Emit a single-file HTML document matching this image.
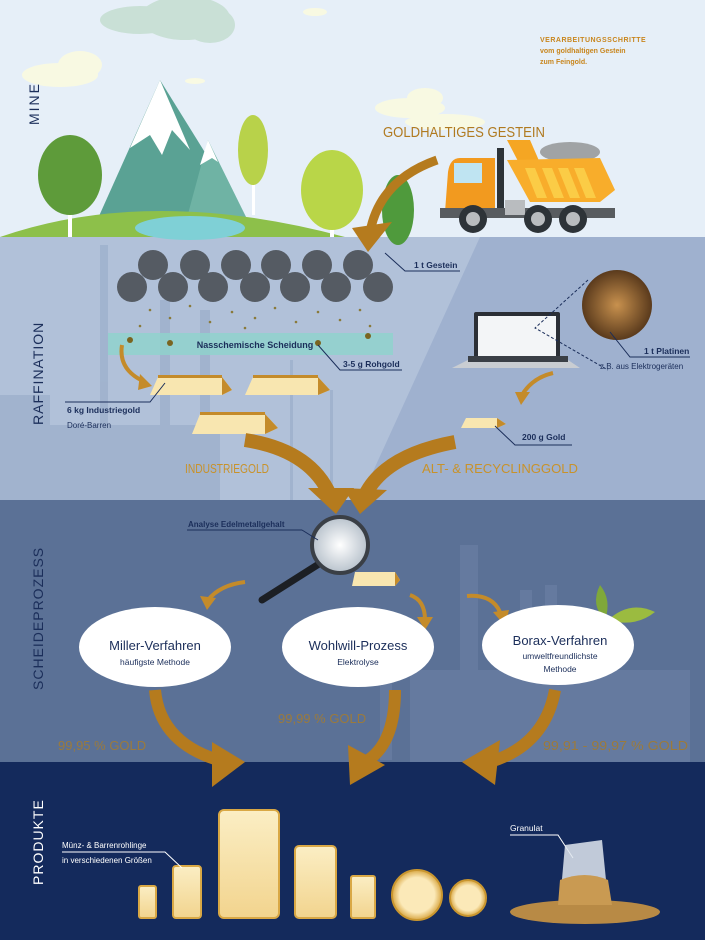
<!DOCTYPE html>
<html><head><meta charset="utf-8"><style>
html,body{margin:0;padding:0;background:#e6eff8}
svg{display:block}
text{font-family:"Liberation Sans",sans-serif}
</style></head><body>
<svg width="705" height="940" viewBox="0 0 705 940" xmlns="http://www.w3.org/2000/svg">
<defs>
<linearGradient id="gb" x1="0" y1="0" x2="0" y2="1"><stop offset="0" stop-color="#fbeec4"/><stop offset="1" stop-color="#f2d48e"/></linearGradient>
<radialGradient id="coin"><stop offset="0.7" stop-color="#fbe9b8"/><stop offset="1" stop-color="#d9a845"/></radialGradient>
<radialGradient id="lens"><stop offset="0" stop-color="#ffffff"/><stop offset="1" stop-color="#b8c2cc"/></radialGradient>
<radialGradient id="pcb"><stop offset="0" stop-color="#c8914e"/><stop offset="1" stop-color="#5a3a1c"/></radialGradient>
</defs>
<rect x="0" y="0" width="705" height="237" fill="#e6eff8"/>
<rect x="0" y="237" width="705" height="263" fill="#b1c1d9"/>
<polygon points="480,237 705,237 705,500 360,500" fill="#9fb1cf"/>
<rect x="0" y="500" width="705" height="262" fill="#5b7196"/>
<rect x="0" y="762" width="705" height="178" fill="#142a5c"/>
<g fill="#fbfbe0" opacity="0.9">
<ellipse cx="60" cy="75" rx="38" ry="12"/><ellipse cx="80" cy="65" rx="22" ry="14"/>
<ellipse cx="410" cy="108" rx="35" ry="10"/><ellipse cx="425" cy="98" rx="18" ry="10"/><ellipse cx="445" cy="122" rx="40" ry="8"/>
<ellipse cx="315" cy="12" rx="12" ry="4"/><ellipse cx="195" cy="81" rx="10" ry="3"/>
</g>
<g fill="#c9e0d6"><ellipse cx="140" cy="20" rx="40" ry="14"/><ellipse cx="185" cy="18" rx="45" ry="22"/><ellipse cx="210" cy="25" rx="25" ry="18"/></g>
<text x="540" y="42" font-size="7" font-weight="bold" fill="#c8861e" letter-spacing="0.5">VERARBEITUNGSSCHRITTE</text>
<text x="540" y="53" font-size="7" font-weight="bold" fill="#c8861e">vom goldhaltigen Gestein</text>
<text x="540" y="64" font-size="7" font-weight="bold" fill="#c8861e">zum Feingold.</text>
<text transform="translate(39,125) rotate(-90)" font-size="14" fill="#1b2e5a" letter-spacing="2">MINE</text>
<polygon points="95,225 160,80 250,225" fill="#5aa294"/>
<polygon points="160,80 130,148 150,135 162,155 172,130 190,150 160,80" fill="#fff"/>
<polygon points="185,225 208,140 250,225" fill="#6fb3a4"/>
<polygon points="208,140 200,165 212,158 218,162" fill="#fff"/>
<path d="M0,237 Q150,185 345,237 Z" fill="#8dc04a"/>
<ellipse cx="190" cy="228" rx="55" ry="12" fill="#7fd0d6"/>
<rect x="68" y="185" width="4" height="52" fill="#fff"/><ellipse cx="70" cy="175" rx="32" ry="40" fill="#5e9b3a"/>
<rect x="252" y="160" width="3" height="55" fill="#fff"/><ellipse cx="253" cy="150" rx="15" ry="35" fill="#b8d24a"/>
<rect x="330" y="200" width="4" height="37" fill="#fff"/><ellipse cx="332" cy="190" rx="31" ry="40" fill="#b9d648"/>
<ellipse cx="398" cy="210" rx="16" ry="35" fill="#4f9a3c"/>
<polygon points="507,140 530,140 540,163 520,165" fill="#f5a623"/>
<ellipse cx="570" cy="152" rx="30" ry="10" fill="#a0a3a5"/>
<polygon points="507,160 600,158 615,190 600,202 530,202" fill="#f8ad2b"/>
<g fill="#fbcc46"><polygon points="525,168 535,168 547,198 537,198"/><polygon points="542,168 552,168 564,198 554,198"/><polygon points="558,168 568,168 580,198 570,198"/><polygon points="574,168 584,168 596,198 586,198"/></g>
<path d="M448,172 Q450,158 460,158 L495,158 L495,212 L445,212 Z" fill="#f29a1f"/>
<rect x="454" y="163" width="28" height="20" fill="#bfe4f2"/>
<rect x="497" y="148" width="7" height="62" fill="#2d3338"/>
<rect x="440" y="208" width="175" height="10" fill="#585c60"/>
<rect x="505" y="200" width="20" height="15" fill="#b9bcbf"/>
<g fill="#2d3338"><circle cx="473" cy="219" r="14"/><circle cx="538" cy="219" r="14"/><circle cx="573" cy="219" r="14"/></g>
<g fill="#b9bcbf"><circle cx="473" cy="219" r="7"/><circle cx="538" cy="219" r="7"/><circle cx="573" cy="219" r="7"/></g>
<text x="383" y="137" font-size="15" fill="#b07a20" textLength="162" lengthAdjust="spacingAndGlyphs">GOLDHALTIGES GESTEIN</text>
<path d="M437,160 Q380,180 370,232" stroke="#b57b1e" stroke-width="9" fill="none"/>
<polygon points="352,228 392,222 368,252" fill="#b57b1e"/>
<g fill="#9eb0cc" opacity="0.8">
<rect x="0" y="395" width="50" height="105"/><rect x="50" y="425" width="170" height="75"/><rect x="100" y="245" width="8" height="180"/>
<rect x="160" y="300" width="10" height="125"/><rect x="200" y="310" width="10" height="115"/>
<rect x="290" y="360" width="3" height="140"/><rect x="330" y="390" width="3" height="110"/>
</g>
<g fill="#555b63">
<circle cx="153" cy="265" r="15"/><circle cx="195" cy="265" r="15"/><circle cx="236" cy="265" r="15"/><circle cx="276" cy="265" r="15"/><circle cx="317" cy="265" r="15"/><circle cx="358" cy="265" r="15"/>
<circle cx="132" cy="287" r="15"/><circle cx="173" cy="287" r="15"/><circle cx="213" cy="287" r="15"/><circle cx="255" cy="287" r="15"/><circle cx="295" cy="287" r="15"/><circle cx="336" cy="287" r="15"/><circle cx="378" cy="287" r="15"/>
</g>
<g fill="#8a7a3a">
<circle cx="150" cy="310" r="1.3"/><circle cx="170" cy="318" r="1.3"/><circle cx="190" cy="306" r="1.3"/><circle cx="210" cy="322" r="1.3"/><circle cx="232" cy="312" r="1.3"/><circle cx="255" cy="318" r="1.3"/><circle cx="275" cy="308" r="1.3"/><circle cx="296" cy="322" r="1.3"/><circle cx="318" cy="312" r="1.3"/><circle cx="340" cy="320" r="1.3"/><circle cx="360" cy="310" r="1.3"/><circle cx="140" cy="326" r="1.3"/><circle cx="245" cy="328" r="1.3"/><circle cx="370" cy="326" r="1.3"/>
</g>
<rect x="108" y="333" width="285" height="22" fill="#8fd3cc" opacity="0.8"/>
<g fill="#7a6420"><circle cx="130" cy="340" r="3"/><circle cx="170" cy="343" r="3"/><circle cx="318" cy="343" r="3"/><circle cx="368" cy="336" r="3"/></g>
<text x="255" y="348" font-size="9" font-weight="bold" fill="#1b2e5a" text-anchor="middle">Nasschemische Scheidung</text>
<path d="M385,253 L405,271 L460,271" stroke="#1b2e5a" fill="none"/><text x="414" y="268" font-size="8.5" font-weight="bold" fill="#1b2e5a">1 t Gestein</text>
<path d="M318,345 L340,370 L402,370" stroke="#1b2e5a" fill="none"/><text x="343" y="367" font-size="8.5" font-weight="bold" fill="#1b2e5a">3-5 g Rohgold</text>
<g>
<polygon points="158,377 222,377 232,390 222,395 150,395" fill="#f8e6b0"/><polygon points="222,377 232,390 222,395" fill="#c48b2a"/><rect x="158" y="375" width="64" height="3" fill="#c48b2a"/>
<polygon points="253,377 318,377 330,390 318,395 245,395" fill="#f8e6b0"/><polygon points="318,377 330,390 318,395" fill="#c48b2a"/><rect x="253" y="375" width="65" height="3" fill="#c48b2a"/>
<polygon points="200,414 265,414 278,428 265,434 192,434" fill="#f8e6b0"/><polygon points="265,414 278,428 265,434" fill="#c48b2a"/><rect x="200" y="412" width="65" height="3" fill="#c48b2a"/>
<polygon points="466,418 497,418 506,424 497,428 461,428" fill="#f8e6b0"/><polygon points="497,418 506,424 497,428" fill="#c48b2a"/>
</g>
<path d="M122,345 Q118,370 145,382" stroke="#c48b2a" stroke-width="4" fill="none"/><polygon points="140,374 152,386 138,390" fill="#c48b2a"/>
<path d="M553,373 Q532,378 522,395" stroke="#c48b2a" stroke-width="4" fill="none"/><polygon points="515,392 530,392 521,405" fill="#c48b2a"/>
<path d="M165,383 L150,402 L65,402" stroke="#1b2e5a" fill="none"/>
<text x="67" y="413" font-size="8.5" font-weight="bold" fill="#1b2e5a">6 kg Industriegold</text>
<text x="67" y="428" font-size="8" fill="#1b2e5a">Doré-Barren</text>
<path d="M495,426 L515,445 L572,445" stroke="#1b2e5a" fill="none"/><text x="522" y="440" font-size="8.5" font-weight="bold" fill="#1b2e5a">200 g Gold</text>
<rect x="474" y="312" width="86" height="48" rx="2" fill="#2b2f36"/><rect x="478" y="316" width="78" height="40" fill="#f3f5f7"/>
<polygon points="468,360 568,360 580,368 452,368" fill="#c9cdd2"/><rect x="468" y="356" width="100" height="6" fill="#3a3f46"/>
<circle cx="617" cy="305" r="35" fill="url(#pcb)"/>
<path d="M588,280 L535,328 L608,370" stroke="#1b2e5a" stroke-dasharray="3,2" fill="none"/>
<path d="M610,332 L630,357 L690,357" stroke="#1b2e5a" fill="none"/>
<text x="644" y="354" font-size="8.5" font-weight="bold" fill="#1b2e5a">1 t Platinen</text>
<text x="600" y="369" font-size="8" fill="#1b2e5a">z.B. aus Elektrogeräten</text>
<text transform="translate(43,425) rotate(-90)" font-size="14" fill="#1b2e5a" letter-spacing="1">RAFFINATION</text>
<text x="185" y="473" font-size="13" fill="#c8922a" textLength="84" lengthAdjust="spacingAndGlyphs">INDUSTRIEGOLD</text>
<text x="422" y="473" font-size="13" fill="#c8922a" textLength="156" lengthAdjust="spacingAndGlyphs">ALT- &amp; RECYCLINGGOLD</text>
<path d="M245,440 Q310,450 330,495" stroke="#b57b1e" stroke-width="14" fill="none"/><polygon points="308,488 354,488 336,514" fill="#b57b1e"/>
<path d="M455,442 Q385,455 365,495" stroke="#b57b1e" stroke-width="14" fill="none"/><polygon points="343,488 387,490 360,514" fill="#b57b1e"/>
<g fill="#6a7fa3" opacity="0.7">
<rect x="460" y="545" width="18" height="215"/><rect x="520" y="590" width="12" height="170"/><rect x="545" y="585" width="12" height="175"/><rect x="380" y="620" width="12" height="140"/><rect x="410" y="670" width="280" height="92"/><rect x="660" y="670" width="15" height="92"/>
</g>
<text transform="translate(43,690) rotate(-90)" font-size="14" fill="#1b2e5a" letter-spacing="1">SCHEIDEPROZESS</text>
<line x1="322" y1="562" x2="262" y2="600" stroke="#1c1f24" stroke-width="7" stroke-linecap="round"/>
<circle cx="340" cy="545" r="28" fill="url(#lens)" stroke="#3a3f46" stroke-width="4"/>
<polygon points="355,572 395,572 400,580 395,586 352,586" fill="#f8e6b0"/><polygon points="395,572 400,580 395,586" fill="#c48b2a"/>
<path d="M302,530 L187,530" stroke="#1b2e5a" fill="none"/><path d="M302,530 L318,540" stroke="#1b2e5a"/>
<text x="188" y="527" font-size="8" font-weight="bold" fill="#1b2e5a">Analyse Edelmetallgehalt</text>
<path d="M245,582 Q220,585 208,600" stroke="#c48b2a" stroke-width="4" fill="none"/><polygon points="200,596 216,598 207,610" fill="#c48b2a"/>
<path d="M410,595 Q425,600 425,620" stroke="#c48b2a" stroke-width="4" fill="none"/><polygon points="417,617 433,617 425,630" fill="#c48b2a"/>
<path d="M467,596 Q492,594 500,612" stroke="#c48b2a" stroke-width="4" fill="none"/><polygon points="493,612 509,610 505,626" fill="#c48b2a"/>
<path d="M600,585 Q612,600 605,620 Q590,605 600,585Z" fill="#7fa83a"/><path d="M608,620 Q630,600 655,612 Q635,628 608,620Z" fill="#9bbb40"/>
<ellipse cx="155" cy="647" rx="76" ry="40" fill="#fff"/>
<ellipse cx="358" cy="647" rx="76" ry="40" fill="#fff"/>
<ellipse cx="558" cy="645" rx="76" ry="40" fill="#fff"/>
<text x="155" y="650" font-size="13" fill="#1b2e5a" text-anchor="middle">Miller-Verfahren</text>
<text x="155" y="665" font-size="8.5" fill="#1b2e5a" text-anchor="middle">häufigste Methode</text>
<text x="358" y="650" font-size="13" fill="#1b2e5a" text-anchor="middle">Wohlwill-Prozess</text>
<text x="358" y="665" font-size="8.5" fill="#1b2e5a" text-anchor="middle">Elektrolyse</text>
<text x="560" y="645" font-size="13" fill="#1b2e5a" text-anchor="middle">Borax-Verfahren</text>
<text x="560" y="659" font-size="8.5" fill="#1b2e5a" text-anchor="middle">umweltfreundlichste</text>
<text x="560" y="672" font-size="8.5" fill="#1b2e5a" text-anchor="middle">Methode</text>
<text x="58" y="750" font-size="13" fill="#9b7a3c">99,95 % GOLD</text>
<text x="278" y="723" font-size="13" fill="#9b7a3c">99,99 % GOLD</text>
<text x="543" y="750" font-size="13" fill="#9b7a3c" textLength="145" lengthAdjust="spacingAndGlyphs">99,91 - 99,97 % GOLD</text>
<path d="M155,690 Q160,745 225,762" stroke="#b57b1e" stroke-width="12" fill="none"/><polygon points="212,742 245,762 212,787" fill="#b57b1e"/>
<path d="M395,690 Q395,745 365,762" stroke="#b57b1e" stroke-width="12" fill="none"/><polygon points="348,745 385,765 350,785" fill="#b57b1e"/>
<path d="M555,690 Q545,745 490,762" stroke="#b57b1e" stroke-width="12" fill="none"/><polygon points="500,740 495,785 462,762" fill="#b57b1e"/>
<text transform="translate(43,885) rotate(-90)" font-size="14" fill="#fff" letter-spacing="1">PRODUKTE</text>
<g stroke="#d9a845" stroke-width="2" fill="url(#gb)">
<rect x="139" y="886" width="17" height="32" rx="2"/>
<rect x="173" y="866" width="28" height="52" rx="3"/>
<rect x="219" y="810" width="60" height="108" rx="5"/>
<rect x="295" y="846" width="41" height="72" rx="4"/>
<rect x="351" y="876" width="24" height="42" rx="2"/>
</g>
<circle cx="417" cy="895" r="25" fill="url(#coin)" stroke="#c9962f" stroke-width="2"/>
<circle cx="468" cy="898" r="18" fill="url(#coin)" stroke="#c9962f" stroke-width="2"/>
<text x="62" y="848" font-size="8" fill="#fff">Münz- &amp; Barrenrohlinge</text>
<text x="62" y="863" font-size="8" fill="#fff">in verschiedenen Größen</text>
<path d="M62,852 L165,852 L182,868" stroke="#fff" fill="none"/>
<text x="510" y="831" font-size="8.5" fill="#fff">Granulat</text>
<path d="M510,835 L558,835 L573,858" stroke="#fff" fill="none"/>
<polygon points="565,845 602,840 608,900 560,902" fill="#dfe6ee" opacity="0.85"/>
<ellipse cx="585" cy="912" rx="75" ry="12" fill="#b88a45"/>
<path d="M560,880 Q585,870 608,880 L612,905 L558,905Z" fill="#c99a52"/>
</svg>
</body></html>
